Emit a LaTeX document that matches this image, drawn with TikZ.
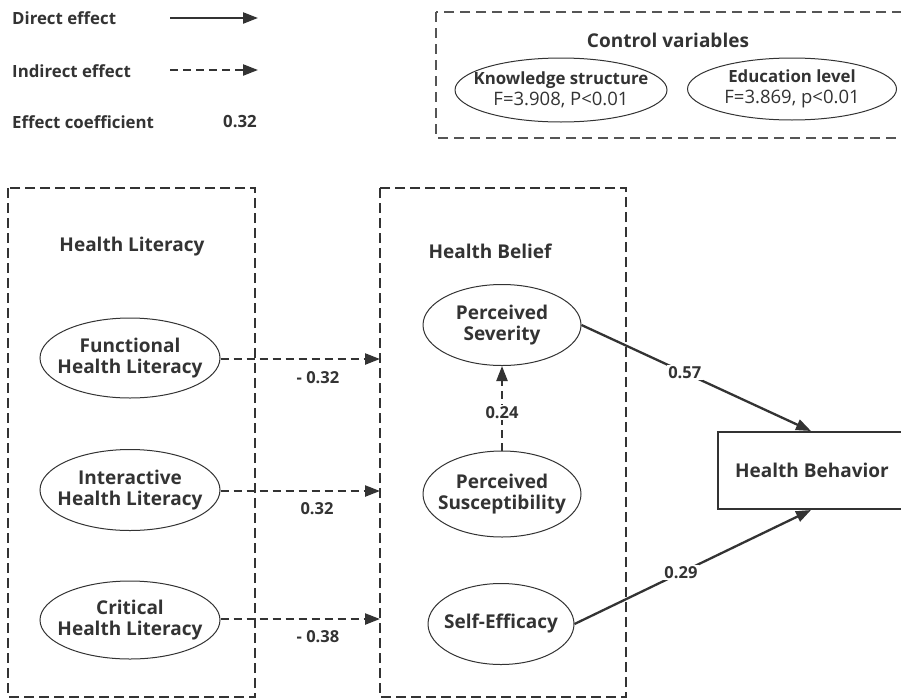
\documentclass[tikz,border=0pt]{standalone}
\usepackage{fontspec}
\setmainfont{Open Sans}
\usetikzlibrary{shapes.geometric,arrows.meta}
\definecolor{ink}{HTML}{333333}
\definecolor{frame}{HTML}{555555}
\tikzset{
  lbl/.style={font=\bfseries\fontsize{16.8}{19}\selectfont, text=ink, inner sep=0},
  ttl/.style={font=\bfseries\fontsize{19}{22}\selectfont, text=ink, inner sep=0},
  % ellipses keep their given size whatever the text width
  oval/.style={ellipse, draw=ink, line width=1pt, inner sep=-60pt, align=center, text=ink},
  latent/.style={oval, font=\bfseries\fontsize{19}{21.5}\selectfont},
  ctrl/.style={oval, font=\fontsize{18.5}{21}\selectfont},
  group/.style={draw=ink, line width=2.5pt, dash pattern=on 10pt off 5pt},
  tip/.style={-{Triangle[length=15pt,width=11pt]}},
  direct/.style={tip, draw=ink, line width=2.3pt},
  indirect/.style={tip, draw=ink, line width=2.3pt, dash pattern=on 8pt off 5pt},
  coef/.style={font=\bfseries\fontsize{16.5}{19}\selectfont, text=ink, fill=white, inner sep=1.5pt},
}
\begin{document}
\begin{tikzpicture}[x=1pt,y=-1pt]
\useasboundingbox[fill=white] (0,0) rectangle (901,699);

% legend
\node[lbl, anchor=west] (lgd) at (12,18) {Direct effect};
\coordinate (lgda) at (170,18);
\coordinate (lgdb) at (258,18);
\draw[direct] (lgda) -- (lgdb);
\node[lbl, anchor=west] (lgi) at (12,71) {Indirect effect};
\coordinate (lgia) at (170,70);
\coordinate (lgib) at (258,70);
\draw[indirect] (lgia) -- (lgib);
\node[lbl, anchor=west] (lgc) at (12,122) {Effect coefficient};
\node[lbl] (lgv) at (240,122) {0.32};

% control variables
\draw[draw=frame, line width=1.8pt, dash pattern=on 10pt off 6pt] (436,12) rectangle (903,138);
\node[ttl] (ctitle) at (668,40) {Control variables};
\node[ctrl, minimum width=212pt, minimum height=64pt] (know) at (561,90)
  {\fontsize{16.8}{21}\selectfont\textbf{Knowledge structure}\\F=3.908, P<0.01};
\node[ctrl, minimum width=209pt, minimum height=62pt] (edu) at (792,89)
  {\fontsize{16.8}{21}\selectfont\textbf{Education level}\\F=3.869, p<0.01};

% group frames
\draw[group] (8,188) rectangle (255,697);
\draw[group] (380,188) rectangle (626,697);
\node[ttl] (hl) at (132,247) {Health Literacy};
\node[ttl] (hb) at (490,251) {Health Belief};

% health literacy dimensions
\node[latent, minimum width=180pt, minimum height=80pt] (fhl) at (130,358) {Functional\\Health Literacy};
\node[latent, minimum width=180pt, minimum height=81pt] (ihl) at (130,490) {Interactive\\Health Literacy};
\node[latent, minimum width=180pt, minimum height=78pt] (chl) at (130,620) {Critical\\Health Literacy};

% health belief dimensions
\node[latent, minimum width=158pt, minimum height=81pt] (sev) at (502,325) {Perceived\\Severity};
\node[latent, minimum width=158pt, minimum height=86pt] (sus) at (502,494) {Perceived\\Susceptibility};
\node[latent, minimum width=146pt, minimum height=81pt] (eff) at (501,624) {Self-Efficacy};

% outcome
\node[draw=ink, line width=2pt, minimum width=188pt, minimum height=77pt,
  font=\bfseries\fontsize{19}{22}\selectfont, text=ink] (beh) at (812,470.5) {Health Behavior};

% indirect paths into the belief frame
\coordinate (in1) at (380,359);
\coordinate (in2) at (380,491);
\coordinate (in3) at (380,619);
\draw[indirect] (fhl.east |- in1) -- (in1);
\draw[indirect] (ihl.east |- in2) -- (in2);
\draw[indirect] (chl.east |- in3) -- (in3);
\node[coef] (c1) at (318,378) {- 0.32};
\node[coef] (c2) at (317,509) {0.32};
\node[coef] (c3) at (318,637) {- 0.38};

\draw[indirect] (sus.north) -- (sev.south) node[coef, pos=0.45] (c4) {0.24};

% direct paths
\draw[direct] (sev.east) -- ([xshift=-1pt]beh.north) node[coef, pos=0.45] (c5) {0.57};
\draw[direct] (eff.east) -- ([xshift=-1pt]beh.south) node[coef, pos=0.45] (c6) {0.29};
\end{tikzpicture}
\end{document}
